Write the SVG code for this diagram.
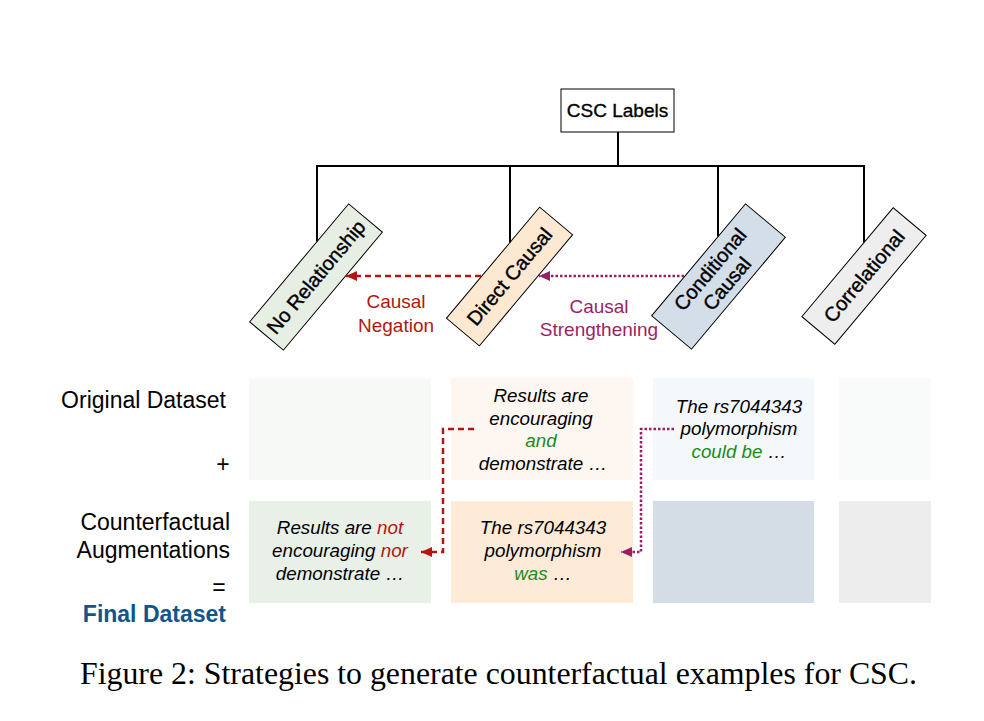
<svg xmlns="http://www.w3.org/2000/svg" width="984" height="721" viewBox="0 0 984 721">
<style>
  .sans { font-family: "Liberation Sans", Arial, sans-serif; }
  .lbl { font-family: "Liberation Sans", Arial, sans-serif; font-size: 19px; fill: #000; text-anchor: middle; }
  .heavy { stroke: #000; stroke-width: 0.35; }
  .rot { font-family: "Liberation Sans", Arial, sans-serif; font-size: 20px; fill: #000; text-anchor: middle; stroke: #000; stroke-width: 0.4; }
  .row { font-family: "Liberation Sans", Arial, sans-serif; font-size: 23px; fill: #000; text-anchor: end; }
  .ex { font-family: "Liberation Sans", Arial, sans-serif; font-size: 18.8px; font-style: italic; fill: #000; text-anchor: middle; }
  .tree { stroke: #000; stroke-width: 2; fill: none; }
  .box { stroke: #000; stroke-width: 1; }
  .neg { stroke: #B3170F; stroke-width: 2.5; fill: none; stroke-dasharray: 6 4; }
  .str { stroke: #9B1F65; stroke-width: 2.5; fill: none; stroke-dasharray: 2.5 2; }
  .red { fill: #B3170F; }
  .pur { fill: #9B1F65; }
  .grn { fill: #1C8A1C; }
</style>
<defs>
  <marker id="arrRed" markerUnits="userSpaceOnUse" markerWidth="12" markerHeight="12" viewBox="0 0 12 12" refX="11" refY="6" orient="auto">
    <path d="M0,1 L11,6 L0,11 z" fill="#B3170F"/>
  </marker>
  <marker id="arrPur" markerUnits="userSpaceOnUse" markerWidth="12" markerHeight="12" viewBox="0 0 12 12" refX="11" refY="6" orient="auto">
    <path d="M0,1 L11,6 L0,11 z" fill="#9B1F65"/>
  </marker>
</defs>
<rect width="984" height="721" fill="#fff"/>

<g id="csc-labels">
  <rect class="box" x="561" y="89" width="113" height="43" fill="#fff"/>
  <text class="lbl heavy" x="617.5" y="117">CSC Labels</text>
</g>

<g id="no-relationship" transform="translate(316 277) rotate(-50)">
  <rect class="box" x="-77" y="-22" width="154" height="44" fill="#E7EFE5"/>
  <text class="rot" x="0" y="7">No Relationship</text>
</g>
<g id="direct-causal" transform="translate(509.5 276.5) rotate(-50)">
  <rect class="box" x="-72.5" y="-21.5" width="145" height="43" fill="#FDE8D1"/>
  <text class="rot" x="0" y="7">Direct Causal</text>
</g>
<g id="conditional-causal" transform="translate(718.5 276.5) rotate(-50)">
  <rect class="box" x="-73" y="-26" width="146" height="52" fill="#D3DEE8"/>
  <text class="rot" x="0" y="-4">Conditional</text>
  <text class="rot" x="0" y="18">Causal</text>
</g>
<g id="correlational" transform="translate(864 276) rotate(-50)">
  <rect class="box" x="-71" y="-21.5" width="142" height="43" fill="#EEEEEE"/>
  <text class="rot" x="0" y="7">Correlational</text>
</g>

<g id="edge-labels">
  <text class="lbl" x="396" y="308" style="fill:#B3170F">Causal</text>
  <text class="lbl" x="396" y="332" style="fill:#B3170F">Negation</text>
  <text class="lbl" x="599" y="313" style="fill:#9B1F65">Causal</text>
  <text class="lbl" x="599" y="336" style="fill:#9B1F65">Strengthening</text>
</g>

<g id="row-labels">
  <text class="row" x="226" y="408">Original Dataset</text>
  <text class="sans" x="223" y="472" font-size="23" text-anchor="middle">+</text>
  <text class="row" x="230" y="530">Counterfactual</text>
  <text class="row" x="230" y="558">Augmentations</text>
  <text class="sans" x="219" y="595" font-size="23" text-anchor="middle">=</text>
  <text class="row" x="226" y="622" font-weight="bold" style="fill:#10568A">Final Dataset</text>
</g>

<g id="original-no-relationship">
  <rect x="249" y="378" width="182" height="102" fill="#F7F9F7"/>
</g>
<g id="original-direct-causal">
  <rect x="451" y="378" width="182" height="102" fill="#FEF7F1"/>
  <text class="ex" x="541" y="402">Results are</text>
  <text class="ex" x="541" y="425">encouraging</text>
  <text class="ex" x="541" y="447"><tspan class="grn">and</tspan></text>
  <text class="ex" x="543" y="470">demonstrate …</text>
</g>
<g id="original-conditional-causal">
  <rect x="653" y="378" width="161" height="102" fill="#F5F8FB"/>
  <text class="ex" x="739" y="413">The rs7044343</text>
  <text class="ex" x="739" y="435">polymorphism</text>
  <text class="ex" x="739" y="458"><tspan class="grn">could be</tspan> …</text>
</g>
<g id="original-correlational">
  <rect x="839" y="378" width="92" height="102" fill="#F9FAFA"/>
</g>

<g id="cf-no-relationship">
  <rect x="249" y="501" width="182" height="102" fill="#E8F0E8"/>
  <text class="ex" x="340" y="534">Results are <tspan class="red">not</tspan></text>
  <text class="ex" x="340" y="557">encouraging <tspan class="red">nor</tspan></text>
  <text class="ex" x="340" y="580">demonstrate …</text>
</g>
<g id="cf-direct-causal">
  <rect x="451" y="501" width="182" height="102" fill="#FDEAD7"/>
  <text class="ex" x="543" y="534">The rs7044343</text>
  <text class="ex" x="543" y="557">polymorphism</text>
  <text class="ex" x="543" y="580"><tspan class="grn">was</tspan> …</text>
</g>
<g id="cf-conditional-causal">
  <rect x="653" y="501" width="161" height="102" fill="#D4DDE6"/>
</g>
<g id="cf-correlational">
  <rect x="839" y="501" width="92" height="102" fill="#EDEDED"/>
</g>

<g id="connectors">
  <path class="tree" d="M618,132 V166 M316,166 H865 M317,166 V241.6 M510,166 V242.5 M718,166 V236.6 M864,166 V242.6"/>
  <path class="neg" d="M481,276 H346" marker-end="url(#arrRed)"/>
  <path class="str" d="M684,276 H539" marker-end="url(#arrPur)"/>
  <path class="neg" d="M474,429 H443 V552 H421" marker-end="url(#arrRed)"/>
  <path class="str" d="M674,429 H641 V552 H621" marker-end="url(#arrPur)"/>
</g>

<g id="caption">
  <text x="80" y="684" font-family="'Liberation Serif', 'Times New Roman', serif" font-size="31.5" textLength="837" lengthAdjust="spacingAndGlyphs" fill="#000">Figure 2: Strategies to generate counterfactual examples for CSC.</text>
</g>
</svg>
